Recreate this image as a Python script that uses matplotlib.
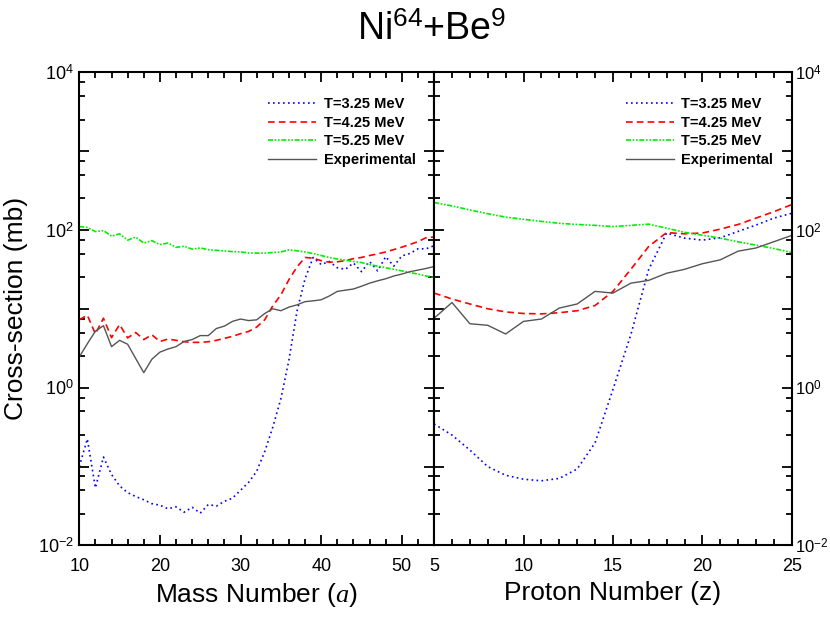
import math
import matplotlib
matplotlib.use('Agg')
import matplotlib.pyplot as plt
from matplotlib.ticker import LogLocator, MultipleLocator, FuncFormatter, NullFormatter

plt.rcParams['font.family'] = ['Liberation Sans', 'DejaVu Sans']
plt.rcParams['mathtext.fontset'] = 'custom'
plt.rcParams['mathtext.rm'] = 'Liberation Sans'
plt.rcParams['mathtext.it'] = 'Liberation Serif:italic'
plt.rcParams['mathtext.bf'] = 'Liberation Sans:bold'

# ---- left panel: mass number a ----
mass = list(range(10, 55))
a_t325 = [0.100, 0.224, 0.0537, 0.132, 0.0794, 0.0569, 0.0468, 0.0417, 0.0380, 0.0339,
          0.0324, 0.0292, 0.0309, 0.0264, 0.0305, 0.0257, 0.0331, 0.0316, 0.0363, 0.0398,
          0.0501, 0.0631, 0.0871, 0.155, 0.316, 0.724, 2.24, 9.3, 24.0, 44.7,
          36.3, 39.8, 33.1, 31.6, 38.0, 29.5, 39.8, 30.2, 45.7, 34.7,
          46.8, 50.1, 57.5, 57.5, 63.1]
a_t425 = [7.24, 8.3, 4.8, 7.59, 4.3, 6.31, 4.27, 5.01, 4.07, 4.68,
          3.85, 4.13, 3.98, 3.82, 3.75, 3.75, 3.82, 3.98, 4.21, 4.47,
          4.83, 5.16, 5.86, 7.26, 10.9, 15.0, 23.4, 33.9, 44.7, 43.7,
          40.7, 38.9, 39.4, 40.7, 43.2, 44.7, 47.3, 49.5, 52.5, 56.2,
          60.3, 65.3, 70.8, 79.4, 81.3]
a_t525 = [110, 107, 95, 98, 83, 89, 74, 81, 68, 73,
          65, 68, 60, 62, 57, 59, 56, 55, 54, 53,
          52.5, 51, 50.7, 50.7, 51.6, 52.5, 55.6, 54.3, 52.5, 50.1,
          47.3, 44.7, 42.7, 41.2, 39.8, 38.5, 36.3, 34.7, 33.1, 31.6,
          30.2, 28.8, 27.5, 26.0, 25.1]
a_exp = [2.45, 3.6, 5.2, 6.1, 3.31, 3.98, 3.55, 2.34, 1.55, 2.29,
         2.82, 3.09, 3.31, 3.85, 4.07, 4.57, 4.57, 5.62, 6.03, 6.92,
         7.41, 7.08, 7.24, 8.71, 10.0, 9.44, 10.5, 11.2, 12.3, 12.6,
         13.0, 14.5, 16.6, 17.2, 17.8, 19.3, 21.1, 22.6, 24.0, 26.0,
         27.5, 29.5, 30.9, 32.4, 34.3]

# ---- right panel: proton number z ----
proton = list(range(5, 26))
z_t325 = [0.347, 0.251, 0.162, 0.100, 0.0776, 0.0692, 0.0661, 0.0708, 0.0933, 0.200,
          0.95, 4.7, 31.6, 91.2, 78.5, 74.1, 79.4, 95.5, 115, 141, 162]
z_t425 = [15.8, 13.3, 11.5, 10.0, 9.12, 8.71, 8.61, 8.91, 9.44, 11.0,
          16.6, 31.6, 61.7, 92.3, 89.1, 91.2, 102, 117, 141, 170, 209]
z_t525 = [222, 201, 179, 160, 145, 136, 128, 121, 117, 114,
          110, 114, 118, 105, 93, 85.5, 78.5, 70.5, 64, 58, 51.6]
z_exp = [7.59, 12.0, 6.46, 6.17, 4.79, 6.92, 7.41, 10.2, 11.5, 16.6,
         15.8, 21.1, 22.9, 28.2, 31.6, 37.2, 41.7, 53.7, 58.9, 70.8, 85.1]

labels = ['T=3.25 MeV', 'T=4.25 MeV', 'T=5.25 MeV', 'Experimental']

fig = plt.figure(figsize=(8.3, 6.23), dpi=100)
ax1 = fig.add_axes([0.0955, 0.1244, 0.4275, 0.76])
ax2 = fig.add_axes([0.523, 0.1244, 0.431, 0.76])


def log_label(v, pos):
    e = round(math.log10(v))
    if e % 2:
        return ''
    return r'$10^{%d}$' % e


def draw(ax, x, s1, s2, s3, s4):
    ax.plot(x, s1, color='#0000ff', ls=(0, (1, 2)), lw=1.2, label=labels[0])
    ax.plot(x, s2, color='#ff0000', ls=(0, (4, 2.5)), lw=1.2, label=labels[1])
    ax.plot(x, s3, color='#00ee00', ls=(0, (3, 1, 1, 1, 1, 1)), lw=1.2, label=labels[2])
    ax.plot(x, s4, color='#555555', ls='-', lw=1.0, label=labels[3])
    ax.set_yscale('log')
    ax.set_ylim(1e-2, 1e4)
    ax.yaxis.set_major_locator(LogLocator(base=10, numticks=10))
    ax.yaxis.set_minor_locator(LogLocator(base=10, subs=[2.5, 5, 7.5], numticks=10))
    ax.yaxis.set_minor_formatter(NullFormatter())
    ax.yaxis.set_major_formatter(FuncFormatter(log_label))
    ax.tick_params(which='both', direction='in', top=True, right=True, left=True,
                   width=1.3, labelsize=13, pad=4)
    ax.tick_params(axis='x', pad=9)
    ax.tick_params(which='major', length=7)
    ax.tick_params(which='minor', length=4)
    for sp in ax.spines.values():
        sp.set_linewidth(1.5)
    ax.legend(loc='upper right', bbox_to_anchor=(0.985, 0.975), frameon=False,
              handlelength=3.3, handletextpad=0.5, labelspacing=0.32,
              prop={'weight': 'bold', 'size': 10.5})


draw(ax1, mass, a_t325, a_t425, a_t525, a_exp)
draw(ax2, proton, z_t325, z_t425, z_t525, z_exp)

ax1.set_xlim(10, 54)
ax1.xaxis.set_major_locator(MultipleLocator(10))
ax1.xaxis.set_minor_locator(MultipleLocator(2))
ax1.tick_params(axis='y', labelleft=True, labelright=False)

ax2.set_xlim(5, 25)
ax2.xaxis.set_major_locator(MultipleLocator(5))
ax2.xaxis.set_minor_locator(MultipleLocator(1))
ax2.tick_params(axis='y', labelleft=False, labelright=True, pad=2, labelsize=12)

fig.text(0.019, 0.505, 'Cross-section (mb)', fontsize=19, rotation=90,
         ha='center', va='center')
ax1.set_xlabel(r'Mass Number ($\mathit{a}$)', fontsize=19, labelpad=4)
ax2.set_xlabel('Proton Number (z)', fontsize=19, labelpad=4)

fig.text(0.52, 0.952, r'Ni$^{64}$+Be$^{9}$', fontsize=27, ha='center', va='center')

fig.savefig('out.png', dpi=100)
